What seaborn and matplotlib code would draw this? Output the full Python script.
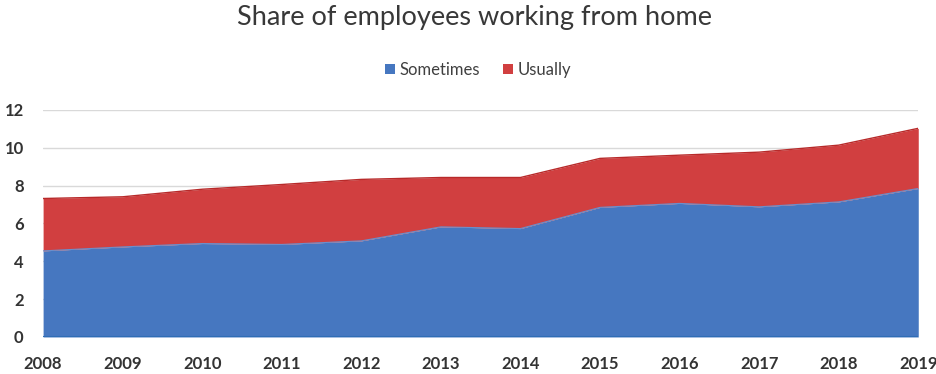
import matplotlib
matplotlib.use("Agg")
import matplotlib.pyplot as plt
import seaborn as sns
import pandas as pd
from matplotlib.patches import Patch

years = [2008, 2009, 2010, 2011, 2012, 2013, 2014, 2015, 2016, 2017, 2018, 2019]
sometimes = [4.55, 4.76, 4.94, 4.89, 5.08, 5.82, 5.73, 6.85, 7.06, 6.88, 7.14, 7.85]
total = [7.32, 7.41, 7.81, 8.06, 8.33, 8.43, 8.43, 9.44, 9.61, 9.77, 10.14, 11.03]
usually = [round(t - s, 2) for t, s in zip(total, sometimes)]
series_names = ["Sometimes", "Usually"]
y_ticks = [0, 2, 4, 6, 8, 10, 12]

df = pd.DataFrame({"year": years, "Sometimes": sometimes, "Usually": usually})

sns.set_theme(style="white")
plt.rcParams["font.family"] = ["Lato", "DejaVu Sans"]

colors = ["#4677C0", "#D13F40"]

fig = plt.figure(figsize=(9.37, 3.74), dpi=100)
ax = fig.add_axes([0.046, 0.099, 0.934, 0.607])

ax.stackplot(df["year"], df["Sometimes"], df["Usually"], colors=colors,
             linewidth=0, zorder=2)
# upper edge of each band
sns.lineplot(x=df["year"], y=df["Sometimes"], ax=ax, color="#6a8fcc",
             linewidth=0.8, zorder=3)
sns.lineplot(x=df["year"], y=df["Sometimes"] + df["Usually"], ax=ax,
             color="#b82a2a", linewidth=1.0, zorder=3)

ax.set_xlim(years[0], years[-1])
ax.set_ylim(0, 12)
ax.set_yticks(y_ticks)
ax.set_xticks(years)
ax.set_xlabel("")
ax.set_ylabel("")
for y in y_ticks[1:]:
    ax.axhline(y, color="#d9d9d9", linewidth=1.0, zorder=1)
ax.axhline(0, color="#2f6db5", linewidth=1.5, zorder=4)

sns.despine(ax=ax, left=True, bottom=True, top=True, right=True)
ax.tick_params(axis="both", length=0, labelsize=12, colors="#333333")
ax.tick_params(axis="y", pad=14)
ax.tick_params(axis="x", pad=14)
for lab in ax.get_xticklabels() + ax.get_yticklabels():
    lab.set_fontweight("bold")

fig.text(0.506, 0.952, "Share of employees working from home", ha="center",
         va="center", fontsize=19.5, color="#383838")

handles = [Patch(facecolor=c, edgecolor="none") for c in colors]
fig.legend(handles, series_names, loc="center", bbox_to_anchor=(0.510, 0.813),
           ncol=2, frameon=False, fontsize=12, handlelength=0.6,
           handleheight=0.6, handletextpad=0.25, columnspacing=1.4,
           labelcolor="#404040")

fig.savefig("out.png", dpi=100)
